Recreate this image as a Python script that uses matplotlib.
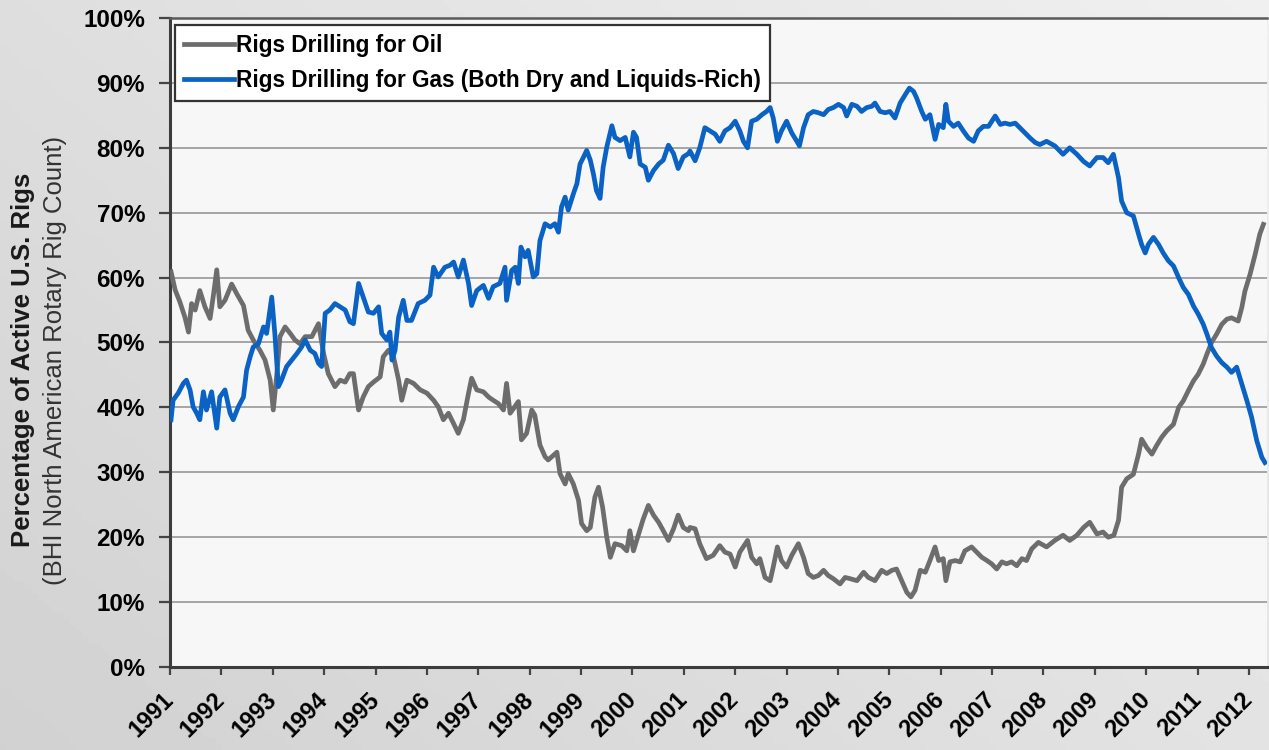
import numpy as np
import matplotlib.pyplot as plt
from matplotlib.ticker import FuncFormatter, MultipleLocator

plt.rcParams["font.family"] = ["Liberation Sans", "DejaVu Sans"]

# ── DATA (share of active U.S. rigs, %) ─────────────────────────────────────
gas_years = [
    1991.02, 1991.06, 1991.16, 1991.26, 1991.32, 1991.39, 1991.45, 1991.52, 1991.58, 1991.65,
    1991.71, 1991.81, 1991.91, 1991.97, 1992.07, 1992.17, 1992.23, 1992.33, 1992.43, 1992.49,
    1992.56, 1992.62, 1992.72, 1992.82, 1992.88, 1992.98, 1993.04, 1993.11, 1993.17, 1993.27,
    1993.37, 1993.47, 1993.56, 1993.63, 1993.73, 1993.82, 1993.89, 1993.95, 1994.02, 1994.11,
    1994.21, 1994.31, 1994.41, 1994.50, 1994.57, 1994.67, 1994.76, 1994.86, 1994.96, 1995.06,
    1995.12, 1995.22, 1995.28, 1995.32, 1995.38, 1995.45, 1995.54, 1995.61, 1995.70, 1995.83,
    1995.96, 1996.06, 1996.13, 1996.22, 1996.35, 1996.45, 1996.52, 1996.61, 1996.71, 1996.81,
    1996.87, 1996.97, 1997.10, 1997.20, 1997.29, 1997.42, 1997.52, 1997.55, 1997.65, 1997.72,
    1997.78, 1997.83, 1997.91, 1997.97, 1998.07, 1998.14, 1998.20, 1998.30, 1998.40, 1998.49,
    1998.56, 1998.62, 1998.69, 1998.75, 1998.85, 1998.92, 1998.98, 1999.05, 1999.11, 1999.18,
    1999.24, 1999.30, 1999.37, 1999.43, 1999.50, 1999.60, 1999.66, 1999.76, 1999.86, 1999.95,
    2000.02, 2000.08, 2000.15, 2000.25, 2000.31, 2000.41, 2000.51, 2000.60, 2000.70, 2000.80,
    2000.89, 2000.99, 2001.09, 2001.12, 2001.22, 2001.31, 2001.41, 2001.51, 2001.61, 2001.70,
    2001.80, 2001.90, 2002.00, 2002.09, 2002.16, 2002.24, 2002.32, 2002.42, 2002.52, 2002.61,
    2002.68, 2002.74, 2002.82, 2002.90, 2003.00, 2003.10, 2003.20, 2003.25, 2003.33, 2003.42,
    2003.52, 2003.62, 2003.72, 2003.81, 2003.91, 2004.01, 2004.11, 2004.17, 2004.27, 2004.37,
    2004.46, 2004.56, 2004.66, 2004.72, 2004.82, 2004.92, 2005.01, 2005.11, 2005.21, 2005.31,
    2005.39, 2005.47, 2005.53, 2005.63, 2005.70, 2005.79, 2005.89, 2005.96, 2006.05, 2006.10,
    2006.15, 2006.25, 2006.34, 2006.44, 2006.54, 2006.64, 2006.73, 2006.83, 2006.93, 2007.06,
    2007.16, 2007.25, 2007.35, 2007.45, 2007.54, 2007.64, 2007.74, 2007.84, 2007.93, 2008.06,
    2008.22, 2008.38, 2008.51, 2008.65, 2008.78, 2008.90, 2009.04, 2009.16, 2009.26, 2009.36,
    2009.46, 2009.52, 2009.62, 2009.75, 2009.85, 2009.91, 2009.98, 2010.04, 2010.14, 2010.24,
    2010.33, 2010.43, 2010.53, 2010.63, 2010.72, 2010.82, 2010.92, 2011.01, 2011.11, 2011.18,
    2011.27, 2011.37, 2011.47, 2011.57, 2011.66, 2011.76, 2011.86, 2011.96, 2012.05, 2012.15,
    2012.25, 2012.31,
]
gas_pct = [
    38.1, 41.1, 42.2, 43.7, 44.2, 42.7, 40.1, 39.1, 38.1, 42.4,
    39.6, 42.4, 36.8, 41.6, 42.7, 39.1, 38.1, 40.1, 41.6, 45.7,
    47.8, 49.3, 49.8, 52.4, 51.4, 57.0, 51.4, 43.2, 44.2, 46.3,
    47.3, 48.3, 49.3, 50.4, 48.8, 48.3, 46.8, 46.3, 54.5, 55.0,
    56.0, 55.5, 55.0, 53.2, 52.9, 59.1, 57.0, 54.7, 54.5, 55.5,
    51.4, 50.4, 51.6, 47.3, 48.8, 53.9, 56.5, 53.4, 53.4, 56.0,
    56.5, 57.3, 61.6, 60.1, 61.6, 61.9, 62.4, 60.1, 62.7, 59.1,
    55.7, 58.0, 58.8, 56.8, 58.6, 59.1, 61.6, 56.5, 61.1, 61.6,
    59.1, 64.7, 63.2, 64.2, 60.1, 60.6, 65.7, 68.3, 67.8, 68.3,
    67.0, 70.9, 72.4, 70.4, 72.9, 74.5, 77.5, 78.6, 79.6, 78.1,
    76.0, 73.4, 72.2, 77.0, 80.1, 83.4, 81.6, 81.1, 81.6, 78.6,
    82.4, 81.6, 77.5, 77.0, 75.0, 76.5, 77.5, 78.1, 80.4, 79.1,
    76.8, 78.6, 79.1, 79.5, 78.0, 80.0, 83.1, 82.6, 82.1, 81.0,
    82.6, 83.1, 84.1, 82.6, 81.0, 80.0, 84.1, 84.4, 85.1, 85.6,
    86.2, 84.6, 81.0, 82.6, 84.1, 82.3, 81.0, 80.3, 83.1, 85.1,
    85.6, 85.4, 85.1, 85.9, 86.2, 86.7, 86.2, 84.9, 86.7, 86.4,
    85.6, 86.2, 86.4, 86.9, 85.6, 85.4, 85.6, 84.6, 86.9, 88.2,
    89.2, 88.7, 87.7, 85.6, 84.4, 85.1, 81.3, 83.6, 83.1, 86.7,
    84.1, 83.3, 83.8, 82.6, 81.5, 81.0, 82.6, 83.3, 83.3, 84.9,
    83.6, 83.8, 83.6, 83.8, 83.1, 82.3, 81.5, 80.8, 80.5, 81.0,
    80.3, 79.0, 80.0, 79.0, 77.9, 77.2, 78.5, 78.5, 77.7, 79.0,
    75.4, 71.8, 70.0, 69.5, 66.7, 65.1, 63.8, 65.1, 66.2, 65.1,
    63.8, 62.6, 61.8, 60.0, 58.5, 57.4, 55.6, 54.4, 52.8, 51.3,
    49.2, 47.9, 46.9, 46.2, 45.4, 46.2, 43.6, 41.0, 38.5, 34.9,
    32.3, 31.5,
]

oil_years = [
    1991.02, 1991.10, 1991.19, 1991.29, 1991.36, 1991.42, 1991.49, 1991.58, 1991.68, 1991.78,
    1991.84, 1991.91, 1991.97, 1992.07, 1992.20, 1992.30, 1992.43, 1992.52, 1992.62, 1992.75,
    1992.85, 1992.95, 1993.01, 1993.08, 1993.14, 1993.24, 1993.34, 1993.43, 1993.53, 1993.63,
    1993.76, 1993.89, 1993.99, 1994.08, 1994.21, 1994.31, 1994.41, 1994.50, 1994.57, 1994.67,
    1994.76, 1994.86, 1994.96, 1995.09, 1995.15, 1995.25, 1995.35, 1995.45, 1995.51, 1995.61,
    1995.74, 1995.87, 1996.00, 1996.13, 1996.22, 1996.32, 1996.42, 1996.52, 1996.61, 1996.71,
    1996.81, 1996.87, 1996.97, 1997.10, 1997.20, 1997.29, 1997.39, 1997.49, 1997.55, 1997.62,
    1997.78, 1997.84, 1997.94, 1998.04, 1998.10, 1998.20, 1998.30, 1998.36, 1998.46, 1998.53,
    1998.59, 1998.69, 1998.75, 1998.85, 1998.95, 1999.01, 1999.11, 1999.18, 1999.27, 1999.34,
    1999.42, 1999.50, 1999.57, 1999.66, 1999.79, 1999.89, 1999.95, 2000.02, 2000.12, 2000.21,
    2000.31, 2000.41, 2000.51, 2000.60, 2000.70, 2000.80, 2000.89, 2000.99, 2001.09, 2001.12,
    2001.22, 2001.31, 2001.44, 2001.57, 2001.70, 2001.80, 2001.90, 2002.00, 2002.09, 2002.24,
    2002.32, 2002.42, 2002.48, 2002.58, 2002.68, 2002.74, 2002.82, 2002.90, 2003.00, 2003.10,
    2003.23, 2003.33, 2003.42, 2003.52, 2003.62, 2003.72, 2003.81, 2003.91, 2004.04, 2004.14,
    2004.24, 2004.37, 2004.50, 2004.59, 2004.72, 2004.85, 2004.95, 2005.05, 2005.14, 2005.24,
    2005.34, 2005.42, 2005.50, 2005.60, 2005.70, 2005.79, 2005.89, 2005.96, 2006.05, 2006.10,
    2006.18, 2006.28, 2006.38, 2006.47, 2006.60, 2006.70, 2006.80, 2006.90, 2006.99, 2007.09,
    2007.19, 2007.28, 2007.38, 2007.48, 2007.58, 2007.67, 2007.77, 2007.90, 2008.06, 2008.22,
    2008.38, 2008.51, 2008.65, 2008.78, 2008.90, 2009.04, 2009.16, 2009.26, 2009.37, 2009.46,
    2009.52, 2009.62, 2009.75, 2009.85, 2009.91, 2010.01, 2010.11, 2010.20, 2010.30, 2010.40,
    2010.53, 2010.63, 2010.72, 2010.82, 2010.92, 2011.01, 2011.11, 2011.18, 2011.27, 2011.37,
    2011.47, 2011.57, 2011.66, 2011.79, 2011.86, 2011.92, 2012.02, 2012.12, 2012.21, 2012.28,
]
oil_pct = [
    60.9, 58.1, 56.3, 53.9, 51.6, 56.0, 55.0, 58.0, 55.5, 53.7,
    57.0, 61.2, 55.5, 56.5, 59.0, 57.5, 55.7, 51.9, 50.4, 48.8,
    47.3, 44.2, 39.6, 45.2, 50.9, 52.4, 51.4, 50.4, 49.8, 50.9,
    50.9, 52.9, 48.3, 45.2, 43.2, 44.2, 43.9, 45.2, 45.2, 39.6,
    41.6, 43.2, 43.9, 44.7, 47.8, 48.8, 47.8, 44.2, 41.1, 44.2,
    43.7, 42.7, 42.2, 41.1, 40.1, 38.1, 39.1, 37.5, 36.0, 38.1,
    42.2, 44.5, 42.7, 42.4, 41.6, 41.1, 40.6, 39.6, 43.7, 39.1,
    40.9, 35.0, 36.0, 39.6, 38.8, 34.2, 32.4, 31.9, 32.6, 33.1,
    29.8, 28.2, 29.8, 28.2, 25.7, 22.1, 21.0, 21.5, 26.2, 27.7,
    24.6, 20.0, 16.9, 19.0, 18.7, 17.9, 21.0, 17.9, 20.5, 22.8,
    24.9, 23.4, 22.3, 21.0, 19.5, 21.3, 23.4, 21.5, 21.0, 21.5,
    21.3, 19.0, 16.7, 17.2, 18.7, 17.7, 17.4, 15.4, 17.7, 19.5,
    16.9, 15.9, 16.7, 13.8, 13.3, 15.4, 18.5, 16.4, 15.4, 17.2,
    19.0, 16.9, 14.4, 13.8, 14.1, 14.9, 14.1, 13.6, 12.8, 13.8,
    13.6, 13.3, 14.6, 13.8, 13.3, 14.9, 14.4, 14.9, 15.1, 13.3,
    11.5, 10.8, 11.8, 14.9, 14.6, 16.4, 18.5, 16.4, 16.7, 13.3,
    16.2, 16.4, 16.2, 17.9, 18.5, 17.7, 16.9, 16.4, 15.9, 15.1,
    16.2, 15.9, 16.2, 15.6, 16.7, 16.4, 18.2, 19.2, 18.5, 19.5,
    20.3, 19.5, 20.3, 21.5, 22.3, 20.5, 20.8, 20.0, 20.3, 22.6,
    27.7, 29.0, 29.7, 32.8, 35.1, 33.8, 32.8, 34.1, 35.4, 36.4,
    37.4, 40.0, 41.0, 42.6, 44.1, 45.1, 46.7, 48.2, 50.0, 51.3,
    52.8, 53.6, 53.8, 53.3, 55.4, 57.9, 60.5, 63.6, 66.7, 68.2,
]

year_ticks = list(range(1991, 2013))

OIL_COLOR = "#6d6d6d"
GAS_COLOR = "#0a62c4"

# ── FIGURE ───────────────────────────────────────────────────────────────────
fig = plt.figure(figsize=(12.69, 7.5), dpi=100)

# soft grey backdrop, a bit darker toward the lower left
bg = fig.add_axes([0, 0, 1, 1], zorder=-5)
gx, gy = np.meshgrid(np.linspace(0, 1, 200), np.linspace(0, 1, 120))
shade = 0.82 + 0.07 * gx + 0.05 * (1 - gy)
bg.imshow(shade, cmap="gray", vmin=0, vmax=1, aspect="auto", extent=[0, 1, 0, 1])
bg.set_axis_off()

ax = fig.add_axes([170 / 1269, 1 - 667 / 750, 1097 / 1269, 649 / 750])
ax.set_facecolor("#f7f7f7")

ax.plot(oil_years, np.array(oil_pct) / 100, color=OIL_COLOR, lw=3.4,
        solid_joinstyle="round", label="Rigs Drilling for Oil", zorder=3)
ax.plot(gas_years, np.array(gas_pct) / 100, color=GAS_COLOR, lw=3.4,
        solid_joinstyle="round",
        label="Rigs Drilling for Gas (Both Dry and Liquids-Rich)", zorder=4)

ax.set_xlim(1991, 2012.35)
ax.set_ylim(0, 1)
ax.yaxis.set_major_locator(MultipleLocator(0.1))
ax.yaxis.set_major_formatter(FuncFormatter(lambda v, _: f"{v * 100:.0f}%"))
ax.set_xticks(year_ticks)
ax.set_xticklabels([str(y) for y in year_ticks], rotation=45, ha="right",
                   va="center", rotation_mode="anchor", fontweight="bold",
                   fontsize=17)
for lab in ax.get_yticklabels():
    lab.set_fontweight("bold")
ax.tick_params(axis="y", labelsize=17.5, length=8, width=1.6, color="#444444",
               pad=10, direction="out")
ax.tick_params(axis="x", length=6, width=1.6, color="#444444", pad=15,
               direction="out")

ax.yaxis.grid(True, color="#a5a5a5", lw=1.4)
ax.set_axisbelow(True)
for side in ("left", "bottom"):
    ax.spines[side].set_color("#3c3c3c")
    ax.spines[side].set_linewidth(2.2)
ax.spines["top"].set_color("#5a5a5a")
ax.spines["top"].set_linewidth(1.8)
ax.spines["right"].set_visible(False)

leg = ax.legend(loc="upper left", bbox_to_anchor=(0.005, 0.989),
                prop={"weight": "bold", "size": 16.3}, frameon=True,
                fancybox=False, framealpha=1, edgecolor="#333333",
                handlelength=2.2, handletextpad=0.1, borderpad=0.38,
                labelspacing=0.55, borderaxespad=0)
leg.get_frame().set_linewidth(1.6)
leg.get_frame().set_facecolor("white")

fig.text(0.018, 0.52, "Percentage of Active U.S. Rigs", rotation=90,
         ha="center", va="center", fontsize=18.5, fontweight="bold",
         color="#1a1a1a")
fig.text(0.043, 0.52, "(BHI North American Rotary Rig Count)", rotation=90,
         ha="center", va="center", fontsize=18.5, color="#333333")

fig.savefig("out.png", dpi=100)
